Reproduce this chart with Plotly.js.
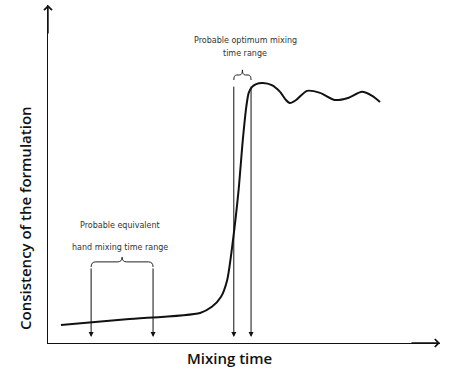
<!DOCTYPE html>
<html>
<head>
<meta charset="utf-8">
<script src="https://cdn.plot.ly/plotly-3.0.1.min.js"></script>
<style>html,body{margin:0;padding:0;background:#fff;}#chart{width:470px;height:372px;}</style>
</head>
<body>
<div id="chart"></div>
<script>
// Curve: consistency vs mixing time (arbitrary units 0-100)
const mixingTime  = [3.3, 20, 38.8, 41.8, 44.1, 45.7, 47.2, 48.6, 49.7, 50.6, 51.2, 52.0, 53.1, 54.8, 57.1, 59.2, 60.7, 61.7, 63.3, 66.1, 69.4, 73.2, 76.5, 80.1, 82.7, 84.7];
const consistency = [5.3, 7.0, 8.9, 10.7, 13.6, 18.6, 30.5, 45.0, 60.1, 70.0, 74.0, 75.7, 76.6, 76.9, 76.3, 74.3, 71.9, 71.0, 71.9, 74.6, 74.0, 71.9, 72.5, 74.3, 73.1, 71.3];

// Ranges marked with arrows
const handRange    = [11.0, 26.8];
const optimumRange = [47.4, 51.8];

// Labels
const handLabel    = ["Probable equivalent", "hand mixing time range"];
const optimumLabel = ["Probable optimum mixing", "time range"];
const xTitle = "Mixing time";
const yTitle = "Consistency of the formulation";

const arrowTipY = 1.8;
const handTopY = 22.5;
const optTopY = 76.3;

const annotations = [];
function downArrow(x, yTop) {
  annotations.push({x: x, y: arrowTipY, ax: x, ay: yTop, axref: 'x', ayref: 'y', xref: 'x', yref: 'y',
    text: '', showarrow: true, arrowhead: 2, arrowsize: 1, arrowwidth: 1, arrowcolor: '#111', standoff: 0});
}
handRange.forEach(x => downArrow(x, handTopY));
optimumRange.forEach(x => downArrow(x, optTopY));

function label(x, y, t) {
  annotations.push({x: x, y: y, xref: 'x', yref: 'y', text: t, showarrow: false,
    font: {family: 'DejaVu Sans', size: 8, color: '#333'}});
}
const handMid = (handRange[0] + handRange[1]) / 2 - 0.5;
label(handMid, 34.9, handLabel[0]);
label(handMid, 28.4, handLabel[1]);
const optMid = (optimumRange[0] + optimumRange[1]) / 2 + 0.7;
label(optMid, 89.6, optimumLabel[0]);
label(optMid, 85.8, optimumLabel[1]);

// axis titles
const titleFont = {family: 'Open Sans', size: 15, color: '#111', weight: 600};
annotations.push({x: 0.464, y: -0.044, xref: 'paper', yref: 'paper', xanchor: 'center', yanchor: 'middle',
  text: xTitle, showarrow: false, font: titleFont});
annotations.push({x: -0.0587, y: 0.37, xref: 'paper', yref: 'paper', xanchor: 'center', yanchor: 'middle',
  text: yTitle, showarrow: false, textangle: -90, font: titleFont});

// axis arrowheads
annotations.push({x: 0, y: 100, xref: 'x', yref: 'y', ax: 0, ay: 30, text: '', showarrow: true,
  arrowhead: 4, arrowsize: 1.1, arrowwidth: 1.4, arrowcolor: '#111', standoff: 0});
annotations.push({x: 100, y: 0, xref: 'x', yref: 'y', ax: -30, ay: 0, text: '', showarrow: true,
  arrowhead: 4, arrowsize: 1.1, arrowwidth: 1.4, arrowcolor: '#111', standoff: 0});

function brace(x0, x1, yb, ym, yt) {
  const xc = (x0 + x1) / 2;
  const r = Math.min(1.2, (x1 - x0) / 6);
  return `M${x0},${yb} Q${x0},${ym} ${x0 + r},${ym} L${xc - r},${ym} Q${xc},${ym} ${xc},${yt} Q${xc},${ym} ${xc + r},${ym} L${x1 - r},${ym} Q${x1},${ym} ${x1},${yb}`;
}
const shapes = [
  {type: 'path', xref: 'x', yref: 'y', path: brace(handRange[0], handRange[1], 22.5, 24.0, 25.4), line: {color: '#222', width: 1}},
  {type: 'path', xref: 'x', yref: 'y', path: brace(optimumRange[0], optimumRange[1], 77.8, 79.3, 80.8), line: {color: '#222', width: 1}}
];

const trace = {x: mixingTime, y: consistency, mode: 'lines', type: 'scatter',
  line: {color: '#111', width: 2, shape: 'spline', smoothing: 0.7}, hoverinfo: 'skip'};

const layout = {
  width: 470, height: 372,
  margin: {l: 48, r: 30, t: 5, b: 29},
  paper_bgcolor: '#fff', plot_bgcolor: '#fff',
  showlegend: false,
  xaxis: {range: [0, 100], showgrid: false, zeroline: false, showticklabels: false, ticks: '',
    showline: true, linecolor: '#111', linewidth: 1.4},
  yaxis: {range: [0, 100], showgrid: false, zeroline: false, showticklabels: false, ticks: '',
    showline: true, linecolor: '#111', linewidth: 1.4},
  annotations: annotations,
  shapes: shapes
};
Plotly.newPlot('chart', [trace], layout, {staticPlot: true});
</script>
</body>
</html>
